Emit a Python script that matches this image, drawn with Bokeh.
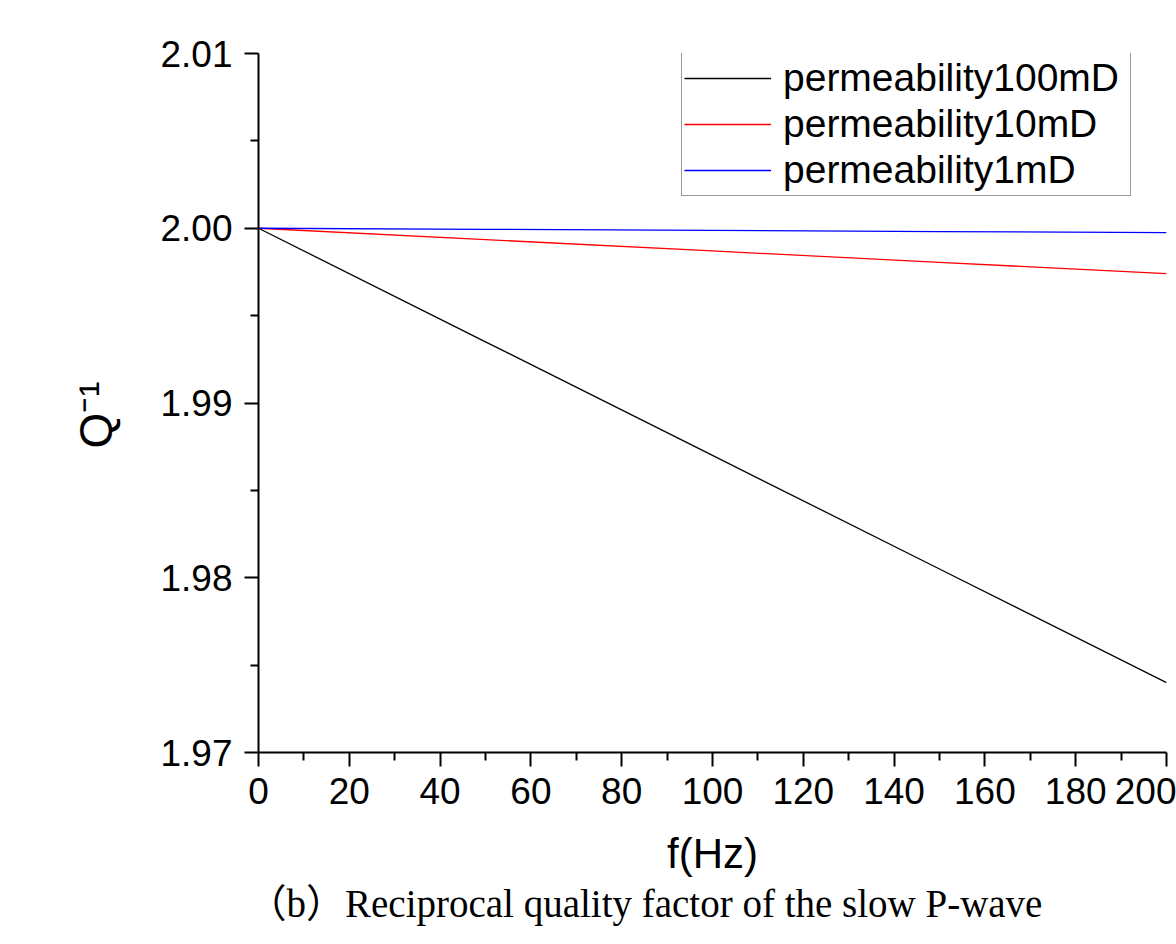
from bokeh.plotting import figure
from bokeh.models import Range1d, FixedTicker, PrintfTickFormatter, Legend, LegendItem, Title
from bokeh.embed import file_html
from bokeh.resources import INLINE

# ---- data ----
freq = [0, 50, 100, 150, 200]
q_100mD = [2.0000, 1.9935, 1.9870, 1.9805, 1.9740]
q_10mD = [2.00000, 1.99935, 1.99870, 1.99805, 1.99740]
q_1mD = [2.00000, 1.99994, 1.99988, 1.99981, 1.99975]
series_names = ["permeability100mD", "permeability10mD", "permeability1mD"]
series_colors = ["#000000", "#ff0000", "#0000ff"]
x_ticks = [0, 20, 40, 60, 80, 100, 120, 140, 160, 180, 200]
x_minor = [10, 30, 50, 70, 90, 110, 130, 150, 170, 190]
y_ticks = [1.97, 1.98, 1.99, 2.00, 2.01]
y_minor = [1.975, 1.985, 1.995, 2.005]
x_title = "f(Hz)"
y_title = "Q⁻¹"
caption = "（b）Reciprocal quality factor of the slow P-wave"

SANS = "Liberation Sans"

p = figure(width=1176, height=944,
           x_range=Range1d(0, 200), y_range=Range1d(1.97, 2.01),
           output_backend="svg", toolbar_location=None,
           min_border_left=258, min_border_right=10,
           min_border_top=53, min_border_bottom=192)
p.grid.visible = False
p.outline_line_color = None
p.background_fill_color = "white"
p.border_fill_color = "white"

p.xaxis.ticker = FixedTicker(ticks=x_ticks, minor_ticks=x_minor)
p.yaxis.ticker = FixedTicker(ticks=y_ticks, minor_ticks=y_minor)
p.yaxis.formatter = PrintfTickFormatter(format="%.2f")

for ax in (p.xaxis[0], p.yaxis[0]):
    ax.axis_line_width = 2
    ax.axis_line_color = "black"
    ax.major_tick_line_width = 2
    ax.minor_tick_line_width = 2
    ax.major_tick_line_color = "black"
    ax.minor_tick_line_color = "black"
    ax.major_tick_out = 14
    ax.major_tick_in = 0
    ax.minor_tick_out = 8
    ax.minor_tick_in = 0
    ax.major_label_text_font = SANS
    ax.major_label_text_font_size = "37px"
    ax.major_label_text_color = "black"

p.yaxis.major_label_standoff = 12
p.xaxis.major_label_standoff = 11

p.xaxis.axis_label = x_title
p.xaxis.axis_label_text_font = SANS
p.xaxis.axis_label_text_font_size = "42px"
p.xaxis.axis_label_text_font_style = "normal"
p.xaxis.axis_label_text_color = "black"
p.xaxis.axis_label_standoff = 23

renderers = []
for ys, c in zip([q_100mD, q_10mD, q_1mD], series_colors):
    r = p.line(freq, ys, line_color=c, line_width=1.3)
    renderers.append(r)

legend = Legend(items=[LegendItem(label=n, renderers=[r]) for n, r in zip(series_names, renderers)],
                location=(423, 556))
legend.label_text_font = SANS
legend.label_text_font_size = "39px"
legend.label_text_color = "black"
legend.glyph_width = 87
legend.glyph_height = 46
legend.label_height = 46
legend.label_width = 345
legend.label_standoff = 12
legend.spacing = 0
legend.padding = 2
legend.margin = 0
legend.border_line_color = "#333333"
legend.border_line_width = 1.5
legend.background_fill_color = "white"
legend.background_fill_alpha = 1.0
p.add_layout(legend)

# y-axis title, rotated, placed to the left of the axis
ytitle = Title(text=y_title, align="left", offset=304, standoff=71,
               text_font=SANS, text_font_size="46px", text_font_style="normal",
               text_color="black")
p.add_layout(ytitle, "left")

# caption below the chart
cap = Title(text=caption, align="left", offset=-11, standoff=0,
            text_font="Liberation Serif, Noto Sans CJK SC", text_font_size="39px",
            text_font_style="normal", text_color="black")
p.add_layout(cap, "below")

open("out.html", "w").write(file_html(p, INLINE))
